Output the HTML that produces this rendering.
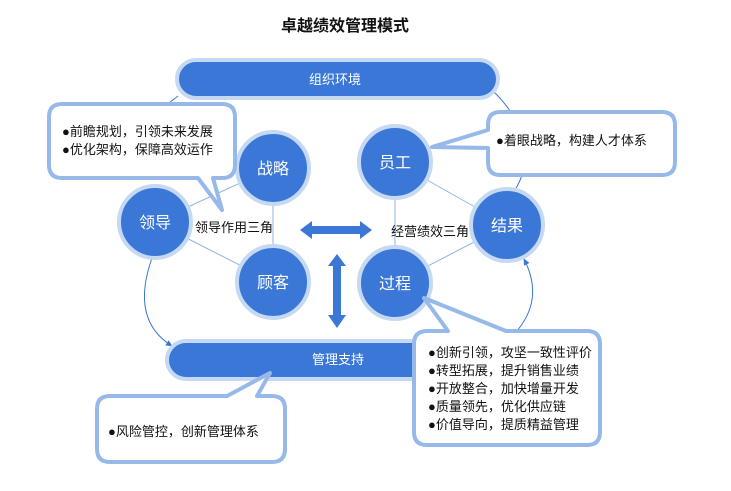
<!DOCTYPE html>
<html><head><meta charset="utf-8"><style>
body{margin:0;background:#fff;}
svg text{font-family:"Liberation Sans","Noto Sans CJK SC",sans-serif;}
</style></head><body>
<svg width="731" height="486" viewBox="0 0 731 486" xmlns="http://www.w3.org/2000/svg">
<defs>
<marker id="ar" markerWidth="8" markerHeight="8" refX="6" refY="4" orient="auto"><path d="M0,1 L7,4 L0,7 Z" fill="#3a77d6"/></marker>
</defs>
<text x="345" y="31" text-anchor="middle" font-size="16" font-weight="bold" fill="#111">卓越绩效管理模式</text>

<path d="M490,88 Q545,140 515,190" fill="none" stroke="#3a77d6" stroke-width="1"/>
<path d="M152,258 Q130,320 172,346" fill="none" stroke="#3a77d6" stroke-width="1" marker-end="url(#ar)"/>
<path d="M515,333 Q545,300 524,259" fill="none" stroke="#3a77d6" stroke-width="1" marker-end="url(#ar)"/>
<line x1="178" y1="96" x2="160" y2="110" stroke="#3a77d6" stroke-width="1"/>

<rect x="177" y="60" width="321" height="38" rx="19" fill="#3a77d6" stroke="#c5d9f3" stroke-width="4"/>
<text x="335" y="84" text-anchor="middle" font-size="13" fill="#fff">组织环境</text>

<g stroke="#8fb4e8" stroke-width="1">
<line x1="155" y1="222" x2="273" y2="168"/><line x1="155" y1="222" x2="273" y2="282"/><line x1="273" y1="168" x2="273" y2="282"/>
<line x1="395" y1="162" x2="507" y2="225"/><line x1="395" y1="162" x2="395" y2="283"/><line x1="395" y1="283" x2="507" y2="225"/>
</g>

<g fill="#3a77d6" stroke="#c5d9f3" stroke-width="4">
<circle cx="273" cy="168" r="36"/><circle cx="155" cy="222" r="36"/><circle cx="273" cy="282" r="36"/>
<circle cx="395" cy="162" r="36"/><circle cx="507" cy="225" r="36"/><circle cx="395" cy="283" r="36"/>
</g>
<g font-size="16" fill="#fff" text-anchor="middle">
<text x="273" y="174">战略</text><text x="155" y="228">领导</text><text x="273" y="288">顾客</text>
<text x="395" y="168">员工</text><text x="507" y="231">结果</text><text x="395" y="289">过程</text>
</g>
<g font-size="13" fill="#111">
<text x="195" y="232">领导作用三角</text><text x="391" y="236">经营绩效三角</text>
</g>

<path d="M300,230 L312,221 L312,226 L360,226 L360,221 L372,230 L360,239 L360,234 L312,234 L312,239 Z" fill="#3a77d6"/>
<path d="M337,254 L346,266 L341,266 L341,315 L346,315 L337,328 L328,315 L333,315 L333,266 L328,266 Z" fill="#3a77d6"/>

<rect x="167" y="341" width="290" height="38" rx="19" fill="#3a77d6" stroke="#c5d9f3" stroke-width="4"/>
<text x="338" y="364" text-anchor="middle" font-size="13" fill="#fff">管理支持</text>

<g fill="#fff" stroke="#97b9ea" stroke-width="4" stroke-linejoin="round">
<path d="M62,104 L222,104 Q235,104 235,117 L235,165 Q235,178 222,178 L213,178 L222,210 L198,178 L62,178 Q49,178 49,165 L49,117 Q49,104 62,104 Z"/>
<path d="M500,112 L662,112 Q675,112 675,125 L675,162 Q675,175 662,175 L500,175 Q488,175 488,162 L488,148 L432,147 L488,130 L488,125 Q488,112 500,112 Z"/>
<path d="M427,331 L448,331 L424,298 L506,331 L587,331 Q600,331 600,344 L600,432 Q600,445 587,445 L427,445 Q414,445 414,432 L414,344 Q414,331 427,331 Z"/>
<path d="M110,396 L227,396 L270,373 L257,396 L272,396 Q285,396 285,409 L285,449 Q285,462 272,462 L110,462 Q97,462 97,449 L97,409 Q97,396 110,396 Z"/>
</g>
<g font-size="13" fill="#111">
<text x="62" y="136">●前瞻规划，引领未来发展</text>
<text x="62" y="154">●优化架构，保障高效运作</text>
<text x="496" y="145">●着眼战略，构建人才体系</text>
<text x="428" y="357">●创新引领，攻坚一致性评价</text>
<text x="428" y="375">●转型拓展，提升销售业绩</text>
<text x="428" y="393">●开放整合，加快增量开发</text>
<text x="428" y="411">●质量领先，优化供应链</text>
<text x="428" y="429">●价值导向，提质精益管理</text>
<text x="108" y="436">●风险管控，创新管理体系</text>
</g>
</svg>
</body></html>
